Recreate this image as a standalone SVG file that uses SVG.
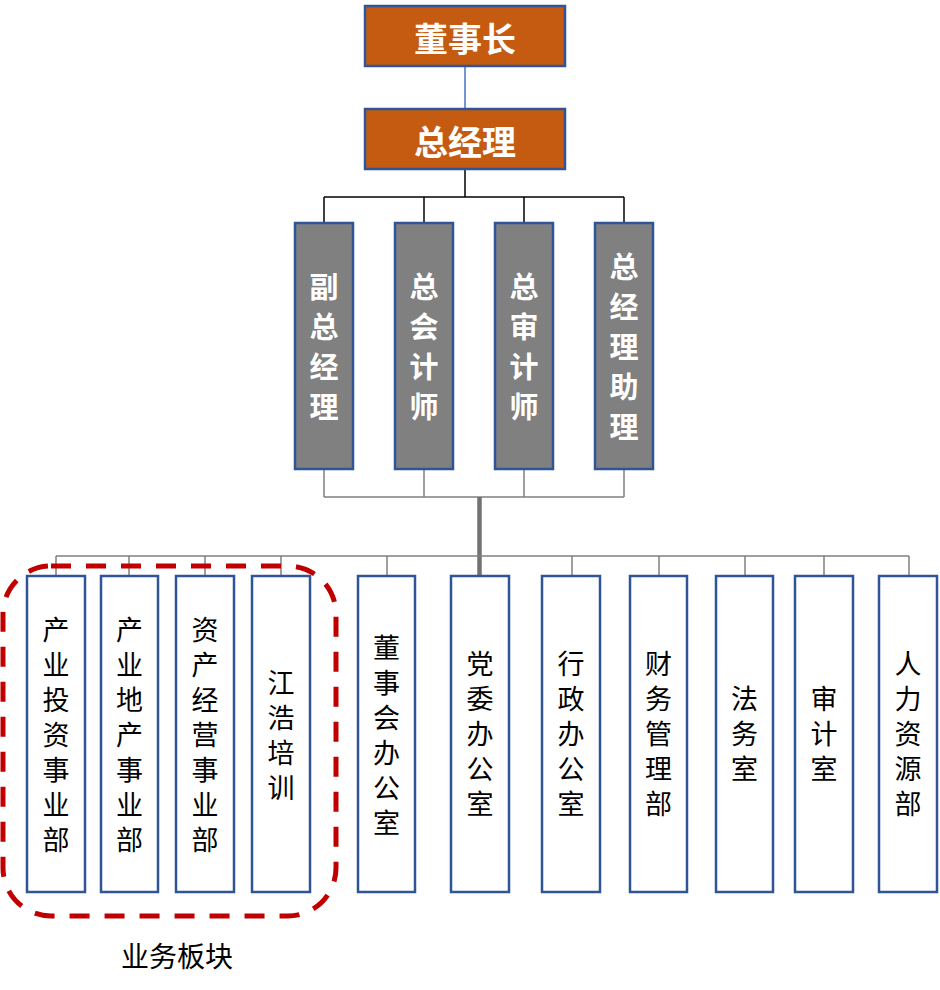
<svg xmlns="http://www.w3.org/2000/svg" width="940" height="990" viewBox="0 0 940 990">
<style>
.top{fill:#C55A11;stroke:#2F5597;stroke-width:2.5}
.mid{fill:#808080;stroke:#2F5597;stroke-width:2.5}
.low{fill:#FFFFFF;stroke:#2F5597;stroke-width:2.5}
.tt{font-family:"Noto Sans CJK SC",sans-serif;font-weight:bold;font-size:34px;fill:#FFFFFF;text-anchor:middle;dominant-baseline:central}
.mt{font-family:"Noto Sans CJK SC",sans-serif;font-weight:bold;font-size:29px;fill:#FFFFFF;text-anchor:middle;writing-mode:vertical-rl;letter-spacing:11px}
.lt{font-family:"Noto Sans CJK SC",sans-serif;font-weight:normal;font-size:27px;fill:#000000;text-anchor:middle;writing-mode:vertical-rl;letter-spacing:8px}
.cb{stroke:#000000;stroke-width:1.5;fill:none}
.cg{stroke:#7F7F7F;stroke-width:1.5;fill:none}
</style>
<rect width="940" height="990" fill="#FFFFFF"/>
<g id="connectors">
<line x1="465" y1="66" x2="465" y2="109" stroke="#4472C4" stroke-width="1.5"/>
<line class="cb" x1="465" y1="169" x2="465" y2="197"/>
<line class="cb" x1="324" y1="197" x2="624" y2="197"/>
<line class="cb" x1="324" y1="197" x2="324" y2="223"/>
<line class="cb" x1="424" y1="197" x2="424" y2="223"/>
<line class="cb" x1="524" y1="197" x2="524" y2="223"/>
<line class="cb" x1="624" y1="197" x2="624" y2="223"/>
<line class="cg" x1="324" y1="469" x2="324" y2="497"/>
<line class="cg" x1="424" y1="469" x2="424" y2="497"/>
<line class="cg" x1="524" y1="469" x2="524" y2="497"/>
<line class="cg" x1="624" y1="469" x2="624" y2="497"/>
<line class="cg" x1="324" y1="497" x2="624" y2="497"/>
<line x1="479.5" y1="497" x2="479.5" y2="576" stroke="#767171" stroke-width="4.5"/>
<line class="cg" x1="56" y1="556" x2="909" y2="556"/>
<line class="cg" x1="56" y1="556" x2="56" y2="576"/>
<line class="cg" x1="129" y1="556" x2="129" y2="576"/>
<line class="cg" x1="205" y1="556" x2="205" y2="576"/>
<line class="cg" x1="281" y1="556" x2="281" y2="576"/>
<line class="cg" x1="387" y1="556" x2="387" y2="576"/>
<line class="cg" x1="572" y1="556" x2="572" y2="576"/>
<line class="cg" x1="659" y1="556" x2="659" y2="576"/>
<line class="cg" x1="745" y1="556" x2="745" y2="576"/>
<line class="cg" x1="824" y1="556" x2="824" y2="576"/>
<line class="cg" x1="909" y1="556" x2="909" y2="576"/>
</g>
<g id="n-chairman"><rect class="top" x="365" y="6" width="200" height="60"/><text class="tt" x="465" y="37">董事长</text></g>
<g id="n-gm"><rect class="top" x="365" y="109" width="200" height="60"/><text class="tt" x="465" y="140">总经理</text></g>
<g id="n-vgm"><rect class="mid" x="295" y="223" width="58" height="246"/><text class="mt" x="324" y="352">副总经理</text></g>
<g id="n-cfo"><rect class="mid" x="395" y="223" width="58" height="246"/><text class="mt" x="424" y="352">总会计师</text></g>
<g id="n-audit"><rect class="mid" x="495" y="223" width="58" height="246"/><text class="mt" x="524" y="352">总审计师</text></g>
<g id="n-gma"><rect class="mid" x="595" y="223" width="58" height="246"/><text class="mt" x="624" y="352">总经理助理</text></g>
<g id="n-d1"><rect class="low" x="27" y="576" width="58" height="316"/><text class="lt" x="56" y="739">产业投资事业部</text></g>
<g id="n-d2"><rect class="low" x="101" y="576" width="57" height="316"/><text class="lt" x="129.5" y="739">产业地产事业部</text></g>
<g id="n-d3"><rect class="low" x="176" y="576" width="58" height="316"/><text class="lt" x="205" y="739">资产经营事业部</text></g>
<g id="n-d4"><rect class="low" x="252" y="576" width="58" height="316"/><text class="lt" x="281" y="739">江浩培训</text></g>
<g id="n-d5"><rect class="low" x="358" y="576" width="57" height="316"/><text class="lt" x="386.5" y="739">董事会办公室</text></g>
<g id="n-d6"><rect class="low" x="451" y="576" width="58" height="316"/><text class="lt" x="480" y="738">党委办公室</text></g>
<g id="n-d7"><rect class="low" x="542" y="576" width="58" height="316"/><text class="lt" x="571" y="738">行政办公室</text></g>
<g id="n-d8"><rect class="low" x="630" y="576" width="57" height="316"/><text class="lt" x="658.5" y="738">财务管理部</text></g>
<g id="n-d9"><rect class="low" x="716" y="576" width="57" height="316"/><text class="lt" x="744.5" y="738">法务室</text></g>
<g id="n-d10"><rect class="low" x="795" y="576" width="58" height="316"/><text class="lt" x="824" y="738">审计室</text></g>
<g id="n-d11"><rect class="low" x="879" y="576" width="58" height="316"/><text class="lt" x="908" y="738">人力资源部</text></g>
<g id="business-group">
<rect x="3" y="566" width="333" height="350" rx="48" ry="48" fill="none" stroke="#C00000" stroke-width="5" stroke-dasharray="20,15"/>
<text x="177" y="955" style="font-family:'Noto Sans CJK SC',sans-serif;font-size:28px;fill:#000000;text-anchor:middle;dominant-baseline:central">业务板块</text>
</g>
</svg>
